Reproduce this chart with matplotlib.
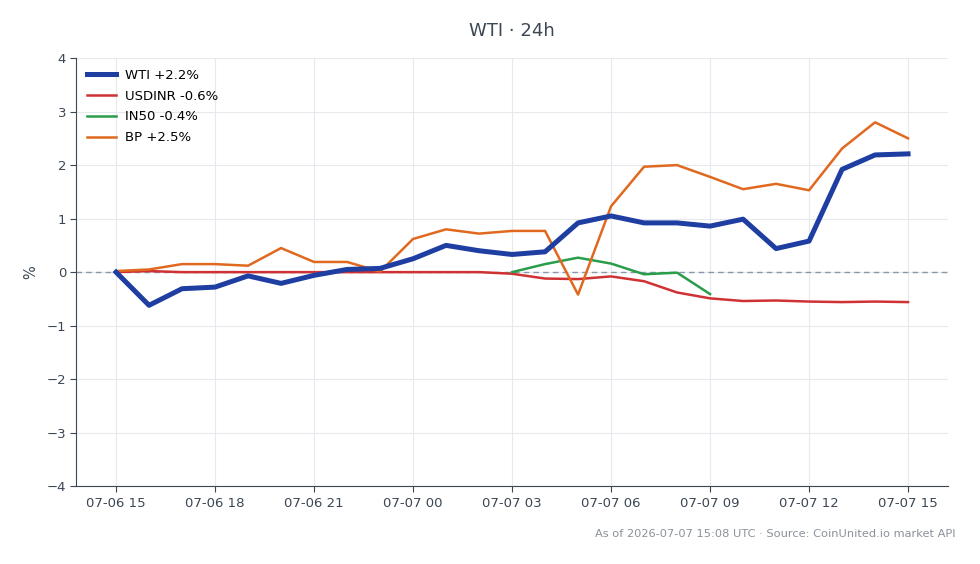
import matplotlib

matplotlib.use("Agg")
import matplotlib.dates as mdates
import matplotlib.pyplot as plt
import pandas as pd

# hourly samples, 2026-07-06 15:00 -> 2026-07-07 15:00 UTC
times = pd.date_range("2026-07-06 15:00", "2026-07-07 15:00", freq="h")

wti = [0.00, -0.62, -0.31, -0.28, -0.07, -0.21, -0.06, 0.05, 0.07, 0.25,
       0.50, 0.40, 0.33, 0.38, 0.92, 1.05, 0.92, 0.92, 0.86, 0.99,
       0.44, 0.58, 1.92, 2.19, 2.21]
usdinr = [0.00, 0.02, 0.00, 0.00, 0.00, 0.00, 0.00, 0.00, 0.00, 0.00,
          0.00, 0.00, -0.03, -0.12, -0.13, -0.08, -0.17, -0.38, -0.49, -0.54,
          -0.53, -0.55, -0.56, -0.55, -0.56]
in50_times = times[12:19]
in50 = [0.00, 0.15, 0.27, 0.16, -0.04, -0.01, -0.41]
bp = [0.02, 0.05, 0.15, 0.15, 0.12, 0.45, 0.19, 0.19, 0.01, 0.62,
      0.80, 0.72, 0.77, 0.77, -0.42, 1.23, 1.97, 2.00, 1.78, 1.55,
      1.65, 1.53, 2.31, 2.80, 2.50]

TEXT = "#3b4754"

fig, ax = plt.subplots(figsize=(9.8, 5.64), dpi=100)
fig.subplots_adjust(left=0.078, right=0.967, top=0.897, bottom=0.138)

ax.axhline(0, color="#8a97a6", lw=1, ls=(0, (4, 3)), zorder=1)
ax.plot(times, wti, color="#1f3ea2", lw=3.6, label="WTI +2.2%", zorder=4)
ax.plot(times, usdinr, color="#d03234", lw=1.8, label="USDINR -0.6%", zorder=3)
ax.plot(in50_times, in50, color="#2a9d4a", lw=1.8, label="IN50 -0.4%", zorder=3)
ax.plot(times, bp, color="#e0691f", lw=1.8, label="BP +2.5%", zorder=3)

ax.set_ylim(-4, 4)
ax.set_yticks(range(-4, 5))
ax.set_yticklabels([str(v).replace("-", "\u2212") for v in range(-4, 5)])
ax.xaxis.set_major_locator(mdates.HourLocator(byhour=range(0, 24, 3)))
ax.xaxis.set_major_formatter(mdates.DateFormatter("%m-%d %H"))
ax.set_ylabel("%", color=TEXT, fontsize=10.5, labelpad=6)

ax.grid(True, color="#e6e9ed", lw=0.8)
ax.set_axisbelow(True)
for side in ("top", "right"):
    ax.spines[side].set_visible(False)
for side in ("left", "bottom"):
    ax.spines[side].set_color("#3b4754")
ax.tick_params(colors=TEXT, labelsize=9.5, length=4)

ax.legend(loc="upper left", frameon=False, fontsize=9.5, handlelength=2.2,
          borderaxespad=0.4, labelspacing=0.6, handletextpad=0.7)

ax.set_title("WTI \u00b7 24h", color=TEXT, fontsize=13, pad=16)
fig.text(0.975, 0.045, "As of 2026-07-07 15:08 UTC \u00b7 Source: CoinUnited.io market API",
         ha="right", va="bottom", fontsize=8.2, color="#8a929b")

fig.savefig("out.png", dpi=100)
